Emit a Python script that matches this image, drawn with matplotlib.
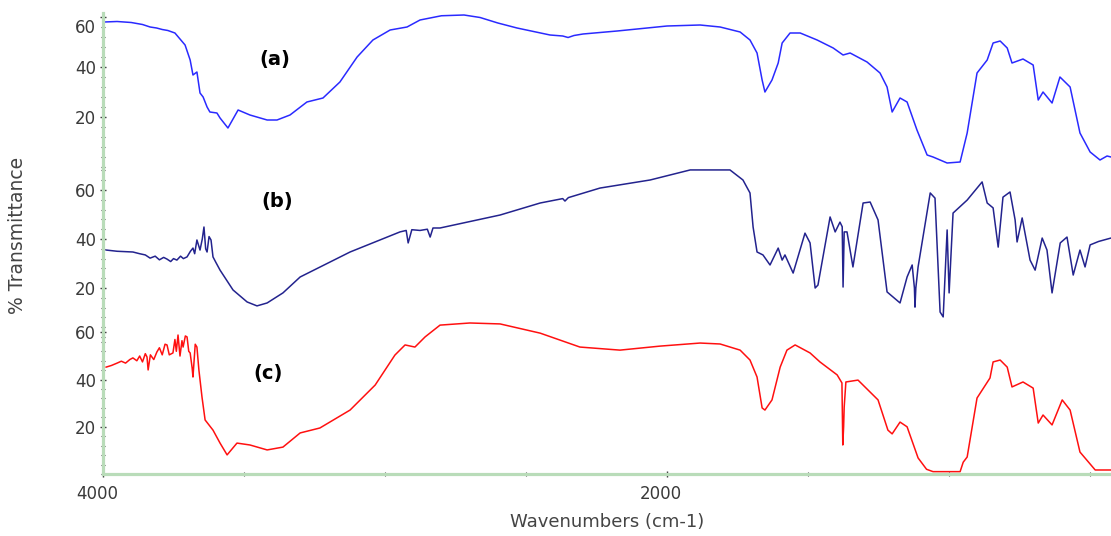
import matplotlib.pyplot as plt
from matplotlib.ticker import FixedLocator, MultipleLocator
import matplotlib.transforms as mtransforms

# spectrum (a) - wavenumber (cm-1) and % transmittance
a_wn = [3996, 3950, 3900, 3860, 3833, 3810, 3790, 3770, 3745, 3709, 3691, 3681, 3667,
        3656, 3645, 3631, 3621, 3596, 3585, 3557, 3521, 3479, 3418, 3383, 3337, 3277,
        3220, 3160, 3099, 3043, 2982, 2922, 2876, 2800, 2720, 2663, 2600, 2532, 2415,
        2370, 2351, 2330, 2298, 2177, 2000, 1883, 1812, 1741, 1706, 1681, 1663, 1653,
        1628, 1606, 1592, 1564, 1528, 1468, 1411, 1376, 1351, 1291, 1245, 1220, 1202,
        1174, 1149, 1114, 1078, 1057, 1007, 961, 936, 901, 865, 844, 819, 794, 777,
        738, 702, 684, 667, 635, 607, 571, 536, 500, 465, 440, 426]
a_t = [58.0, 58.2, 57.8, 57.0, 56.0, 55.6, 55.0, 54.6, 53.6, 48.8, 42.8, 36.8, 38.0,
       29.6, 28.0, 24.0, 22.0, 21.6, 19.6, 15.6, 22.8, 20.8, 18.8, 18.8, 20.8, 26.0,
       27.6, 34.0, 44.0, 50.8, 54.8, 56.0, 58.8, 60.5, 60.8, 59.8, 57.6, 55.6, 52.8,
       52.4, 51.8, 52.6, 53.2, 54.4, 56.4, 56.8, 56.0, 54.0, 50.8, 45.6, 34.8, 30.0,
       34.8, 41.6, 49.6, 53.6, 53.6, 50.8, 47.6, 44.8, 45.6, 42.0, 37.6, 32.0, 22.0,
       27.6, 26.0, 14.8, 4.8, 4.0, 1.6, 2.0, 13.6, 37.6, 42.8, 49.6, 50.4, 47.6, 41.6,
       43.2, 40.8, 26.8, 30.0, 25.6, 36.0, 32.0, 13.6, 6.0, 2.8, 4.4, 4.0]

# spectrum (b)
b_wn = [3989, 3950, 3894, 3870, 3850, 3833, 3815, 3800, 3785, 3773, 3760, 3750, 3738,
        3725, 3715, 3702, 3690, 3681, 3675, 3667, 3660, 3656, 3648, 3642, 3636, 3631,
        3624, 3617, 3610, 3600, 3585, 3539, 3489, 3454, 3418, 3362, 3301, 3124, 2947,
        2925, 2918, 2905, 2876, 2850, 2840, 2830, 2805, 2592, 2450, 2370, 2362, 2350,
        2238, 2060, 1918, 1777, 1731, 1706, 1695, 1681, 1660, 1635, 1606, 1592, 1582,
        1553, 1511, 1493, 1475, 1465, 1422, 1404, 1387, 1379, 1376, 1372, 1362, 1341,
        1305, 1280, 1252, 1220, 1174, 1149, 1131, 1123, 1121, 1118, 1110, 1067, 1050,
        1032, 1021, 1007, 1000, 986, 936, 883, 865, 844, 826, 809, 784, 766, 759, 741,
        713, 695, 670, 653, 635, 606, 582, 560, 536, 518, 500, 470, 426]
b_t = [35.5, 35.0, 34.7, 34.0, 33.5, 32.2, 33.0, 31.5, 32.5, 31.8, 30.8, 32.0, 31.4,
       33.0, 32.0, 32.7, 35.0, 36.3, 34.0, 39.6, 37.0, 35.5, 40.0, 44.9, 36.0, 34.7,
       41.0, 39.6, 32.7, 30.5, 27.3, 19.2, 14.3, 12.7, 13.9, 18.0, 24.5, 34.7, 42.9,
       43.5, 38.4, 43.8, 43.5, 44.0, 40.8, 44.5, 44.5, 49.8, 54.7, 56.5, 55.5, 56.9,
       60.8, 64.1, 68.2, 68.2, 64.1, 58.8, 44.9, 34.7, 33.5, 29.4, 36.3, 31.4, 33.5,
       26.1, 42.4, 38.4, 20.0, 21.2, 49.0, 42.9, 46.9, 45.0, 20.4, 42.9, 42.9, 28.6,
       54.7, 55.1, 47.8, 18.4, 13.9, 24.5, 29.4, 20.0, 12.2, 20.0, 28.6, 58.8, 56.7,
       10.2, 8.2, 43.7, 18.0, 50.6, 55.9, 63.3, 54.7, 52.7, 36.7, 57.1, 59.2, 47.8,
       38.8, 48.6, 31.4, 27.3, 40.4, 35.5, 18.0, 38.4, 40.8, 25.3, 35.5, 28.6, 37.6,
       39.0, 40.4]

# spectrum (c)
c_wn = [3989, 3970, 3950, 3935, 3920, 3905, 3894, 3880, 3870, 3860, 3850, 3844, 3840,
        3832, 3820, 3809, 3800, 3790, 3780, 3773, 3765, 3752, 3745, 3740, 3734, 3727,
        3720, 3716, 3708, 3702, 3696, 3691, 3684, 3681, 3673, 3667, 3660, 3649, 3638,
        3610, 3585, 3560, 3525, 3479, 3418, 3362, 3301, 3231, 3124, 3035, 2965, 2929,
        2894, 2858, 2805, 2699, 2592, 2450, 2309, 2167, 2025, 1883, 1812, 1741, 1706,
        1681, 1663, 1653, 1628, 1599, 1575, 1546, 1493, 1458, 1397, 1380, 1377, 1374,
        1372, 1366, 1323, 1252, 1217, 1202, 1174, 1149, 1110, 1080, 1057, 961, 950, 936,
        901, 855, 844, 819, 794, 777, 738, 702, 684, 667, 635, 599, 571, 536, 482, 426]
c_t = [45.3, 46.0, 47.0, 47.8, 47.0, 48.5, 49.2, 48.0, 50.0, 47.5, 51.0, 49.6, 44.1,
       50.5, 48.5, 51.7, 53.5, 50.5, 55.0, 54.7, 50.5, 51.3, 57.0, 52.0, 58.9, 50.0,
       56.5, 53.8, 58.5, 58.1, 52.0, 51.3, 45.0, 41.1, 55.0, 53.8, 44.1, 32.6, 22.9,
       18.6, 13.1, 8.1, 13.1, 12.3, 10.2, 11.4, 17.4, 19.5, 27.1, 37.7, 50.4, 54.7,
       53.8, 58.1, 63.1, 64.0, 63.6, 59.7, 53.8, 52.5, 54.2, 55.5, 55.1, 52.5, 48.3,
       41.1, 28.0, 27.1, 31.4, 45.3, 52.5, 54.7, 51.3, 47.5, 42.0, 38.6, 12.3, 20.0,
       28.4, 39.0, 39.8, 31.4, 18.6, 17.0, 22.0, 20.0, 6.8, 2.0, 1.0, 1.0, 5.0, 7.2,
       32.2, 40.7, 47.5, 48.3, 45.3, 36.9, 39.0, 36.4, 21.6, 25.0, 20.8, 31.4, 27.1,
       9.3, 1.7, 1.7]

labels = ['(a)', '(b)', '(c)']
colors = ['#2a2aff', '#23238e', '#ff1010']

W, H = 1111, 536
LEFT = 103
GREEN = '#b9dcb9'
TICK_COL = '#3a3a3a'

fig = plt.figure(figsize=(W / 100, H / 100), dpi=100)

# panel extents in pixels (top, bottom) and y upper limit
layout = [(13, 167, 61.6), (167, 337, 69.4), (327, 474, 62.3)]
series = [(a_wn, a_t), (b_wn, b_t), (c_wn, c_t)]
label_pos = [(275, 60), (277, 202), (268, 373)]

axes = []
for i, ((top, bot, ymax), (wn, t)) in enumerate(zip(layout, series)):
    ax = fig.add_axes([LEFT / W, (H - bot) / H, (W - LEFT) / W, (bot - top) / H])
    ax.patch.set_alpha(0)
    ax.plot(wn, t, color=colors[i], lw=1.1, clip_on=False)
    ax.set_xlim(4000, 426)
    ax.set_ylim(0, ymax)
    for s in ['top', 'right']:
        ax.spines[s].set_visible(False)
    ax.spines['left'].set_color(GREEN)
    ax.spines['left'].set_linewidth(2.3)
    ax.yaxis.set_major_locator(FixedLocator([20, 40, 60]))
    ax.yaxis.set_minor_locator(MultipleLocator(4))
    ax.tick_params(axis='y', which='major', direction='inout', length=4, width=1,
                   colors=TICK_COL, labelsize=12, pad=3)
    ax.tick_params(axis='y', which='minor', direction='inout', length=2.5, width=0.8,
                   colors=TICK_COL)
    if i < 2:
        ax.spines['bottom'].set_visible(False)
        ax.tick_params(axis='x', which='both', bottom=False, labelbottom=False)
    else:
        ax.spines['bottom'].set_color(GREEN)
        ax.spines['bottom'].set_linewidth(2.3)
        ax.xaxis.set_major_locator(FixedLocator([4000, 2000]))
        ax.xaxis.set_minor_locator(MultipleLocator(500))
        ax.tick_params(axis='x', which='major', direction='inout', length=4, width=1,
                       colors=TICK_COL, labelsize=12, pad=6)
        ax.tick_params(axis='x', which='minor', direction='inout', length=2.5, width=0.8,
                       colors=TICK_COL)
    fig.text(label_pos[i][0] / W, 1 - label_pos[i][1] / H, labels[i], ha='center',
             va='center', fontsize=14, fontweight='bold', color='black')
    axes.append(ax)

# top label of panel (a) sits lower than its tick
fig.canvas.draw()
shift = mtransforms.ScaledTranslation(0, -9 / 100, fig.dpi_scale_trans)
for lbl in axes[0].get_yticklabels():
    if lbl.get_text() == '60':
        lbl.set_transform(lbl.get_transform() + shift)
for lbl in axes[2].get_xticklabels():
    lbl.set_transform(lbl.get_transform() +
                      mtransforms.ScaledTranslation(-6 / 100, 0, fig.dpi_scale_trans))

fig.text(18 / W, 1 - 235 / H, '% Transmittance', rotation=90, ha='center', va='center',
         fontsize=13.5, color='#444444')
fig.text(607 / W, 1 - 522 / H, 'Wavenumbers (cm-1)', ha='center', va='center',
         fontsize=13, color='#444444')

fig.savefig('out.png', dpi=100)
